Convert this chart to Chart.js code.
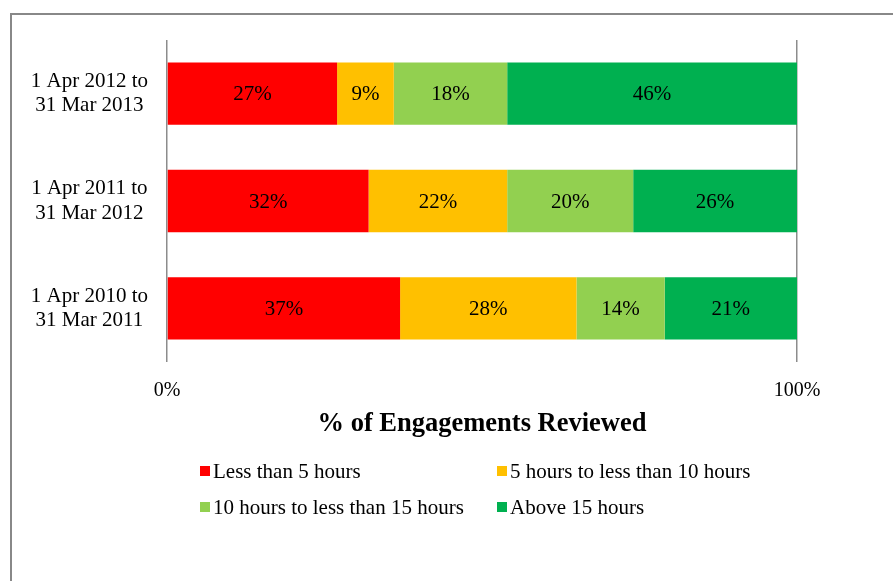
<!DOCTYPE html>
<html>
<head>
<meta charset="utf-8">
<script src="https://cdn.jsdelivr.net/npm/chart.js@4.4.1/dist/chart.umd.min.js"></script>
<style>
  body { margin: 0; background: #fff; overflow: hidden; }
  #frame { position: absolute; left: 10px; top: 13px; width: 1000px; height: 1000px; border: 2px solid #888; }
  #wrap { position: absolute; left: 0; top: 0; width: 893px; height: 581px; }
  #legend { position: absolute; left: 200px; top: 453px; display: grid; grid-template-columns: 297px auto; grid-auto-rows: 36px;
            font-family: 'Liberation Serif', 'Times New Roman', serif; font-size: 21px; color: #000; }
  .item { display: flex; align-items: center; white-space: nowrap; }
  .box { width: 10px; height: 10px; margin-right: 3px; }
</style>
</head>
<body>
<div id="frame"></div>
<div id="wrap"><canvas id="grafico" width="893" height="581"></canvas></div>
<div id="legend"></div>
<script>
// Periodos (de arriba hacia abajo)
const periodos = [
    ['1 Apr 2012 to', '31 Mar 2013'],
    ['1 Apr 2011 to', '31 Mar 2012'],
    ['1 Apr 2010 to', '31 Mar 2011']
];

// Porcentaje de revisiones por tramo de horas
const menos5 = [27, 32, 37];
const de5a10 = [9, 22, 28];
const de10a15 = [18, 20, 14];
const mas15 = [46, 26, 21];

const nombresSeries = ['Less than 5 hours', '5 hours to less than 10 hours', '10 hours to less than 15 hours', 'Above 15 hours'];
const colores = ['#FF0000', '#FFC000', '#92D050', '#00B050'];
const ticksX = [0, 100];

const fuente = "'Liberation Serif', 'Times New Roman', serif";

// Etiquetas de porcentaje dentro de cada barra
const etiquetas = {
    id: 'etiquetas',
    afterDatasetsDraw(chart) {
        const ctx = chart.ctx;
        ctx.save();
        ctx.font = '21px ' + fuente;
        ctx.fillStyle = '#000';
        ctx.textAlign = 'center';
        ctx.textBaseline = 'middle';
        chart.data.datasets.forEach((ds, i) => {
            chart.getDatasetMeta(i).data.forEach((bar, j) => {
                const p = bar.getCenterPoint();
                ctx.fillText(ds.data[j] + '%', p.x, p.y + 1);
            });
        });
        ctx.restore();
    }
};

const series = [menos5, de5a10, de10a15, mas15];

const config = {
    type: 'bar',
    data: {
        labels: periodos,
        datasets: series.map((d, i) => ({
            label: nombresSeries[i],
            data: d,
            backgroundColor: colores[i],
            borderWidth: 0,
            barPercentage: 0.58,
            categoryPercentage: 1
        }))
    },
    options: {
        indexAxis: 'y',
        responsive: false,
        animation: false,
        layout: { padding: { top: 40, left: 31, right: 96, bottom: 141 } },
        plugins: {
            legend: { display: false },
            tooltip: { enabled: false }
        },
        scales: {
            x: {
                stacked: true,
                min: 0,
                max: 100,
                afterBuildTicks: (scale) => { scale.ticks = ticksX.map(v => ({ value: v })); },
                afterFit: (scale) => { scale.height = 78; },
                grid: { color: '#8c8c8c', lineWidth: 1.5, drawTicks: false },
                border: { display: false },
                ticks: {
                    padding: 17,
                    color: '#000',
                    font: { family: fuente, size: 20 },
                    callback: v => v + '%'
                },
                title: {
                    display: true,
                    text: '% of Engagements Reviewed',
                    color: '#000',
                    font: { family: fuente, size: 26.5, weight: 'bold' },
                    padding: { top: 0, bottom: 0 }
                }
            },
            y: {
                stacked: true,
                grid: { display: false, drawTicks: false },
                border: { display: false },
                afterFit: (scale) => {
                    scale.width = 136;
                    scale.paddingTop = 0;
                    scale.paddingBottom = 0;
                },
                ticks: {
                    padding: 19,
                    crossAlign: 'center',
                    color: '#000',
                    font: { family: fuente, size: 21, lineHeight: 1.15 }
                }
            }
        }
    },
    plugins: [etiquetas]
};

const ctx = document.getElementById('grafico').getContext('2d');
const grafico = new Chart(ctx, config);

// Leyenda en dos columnas
const leyenda = document.getElementById('legend');
grafico.data.datasets.forEach(ds => {
    const item = document.createElement('div');
    item.className = 'item';
    const caja = document.createElement('span');
    caja.className = 'box';
    caja.style.background = ds.backgroundColor;
    item.appendChild(caja);
    item.appendChild(document.createTextNode(ds.label));
    leyenda.appendChild(item);
});
</script>
</body>
</html>
